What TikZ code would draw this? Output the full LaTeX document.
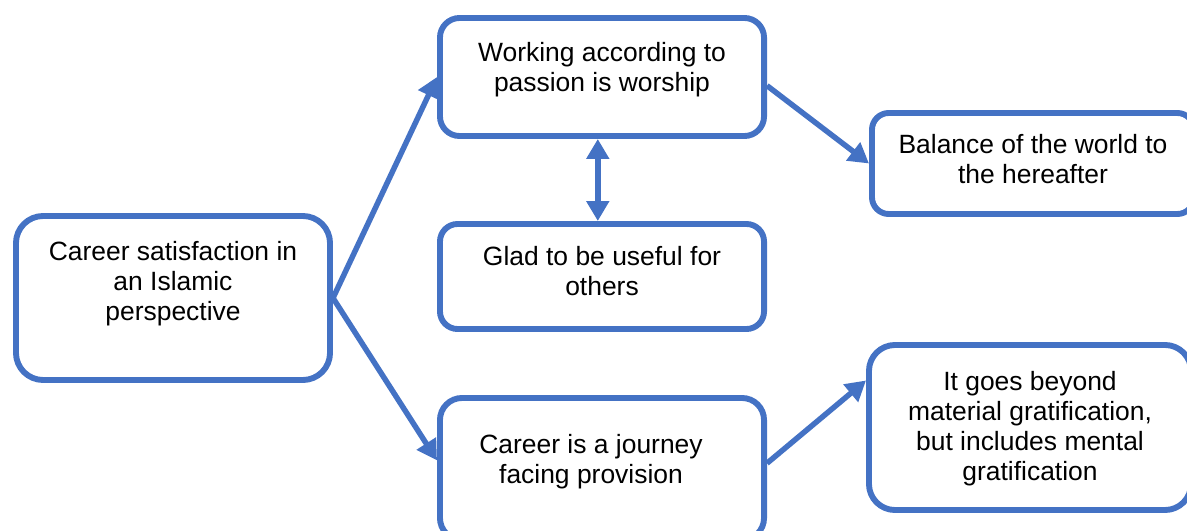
\documentclass[tikz,border=0pt]{standalone}
\usepackage{fontspec}
\setmainfont{Liberation Sans}
\usepackage{xcolor}
\usepackage{tikz}
\usetikzlibrary{arrows.meta}
\definecolor{officeblue}{HTML}{4472C4}

\begin{document}
\begin{tikzpicture}[x=0.025cm,y=-0.025cm,>={Triangle[length=0.5cm,width=0.55cm]},
	box/.style={draw=officeblue,line width=4.2pt,inner sep=0pt},
	txt/.style={align=center,font=\fontsize{18.8}{21.3}\selectfont},
	link/.style={officeblue,line width=3.9pt}]
	\useasboundingbox (0,0) rectangle (1187,531);
	% boxes
	\node[box,minimum width=7.85cm,minimum height=4.1cm,rounded corners=0.68cm] (career) at (173,298) {};
	\node[box,minimum width=8.1cm,minimum height=2.95cm,rounded corners=0.49cm] (passion) at (602,77) {};
	\node[box,minimum width=8.1cm,minimum height=2.625cm,rounded corners=0.44cm] (glad) at (602,276.5) {};
	\node[box,minimum width=8.1cm,minimum height=3.55cm,rounded corners=0.55cm] (journey) at (602,469) {};
	\node[box,minimum width=8.05cm,minimum height=2.525cm,rounded corners=0.42cm] (balance) at (1033,163.5) {};
	\node[box,minimum width=8.05cm,minimum height=4.125cm,rounded corners=0.65cm] (beyond) at (1030,427.5) {};
	% texts
	\foreach \n/\x/\y/\t in {careerText/173/284/{Career satisfaction in\\an Islamic\\perspective},
		passionText/602/69.5/{Working according to\\passion is worship},
		gladText/602/271/{Glad to be useful for\\others},
		journeyText/591/462/{Career is a journey\\facing provision},
		balanceText/1033/159.5/{Balance of the world to\\the hereafter},
		beyondText/1030/428.5/{It goes beyond\\material gratification,\\but includes mental\\gratification}}
	{\node[txt] (\n) at (\x,\y) {\t};}
	% links
	\draw[link,->] (career.east) -- (passion.west);
	\draw[link,->] (career.east) -- (journey.177);
	\draw[link,<->] ([xshift=-3pt]passion.south) -- ([xshift=-3pt]glad.north);
	\draw[link,->] (passion.-3) -- (balance.west);
	\draw[link,->] (journey.2) -- (beyond.164);
\end{tikzpicture}
\end{document}
